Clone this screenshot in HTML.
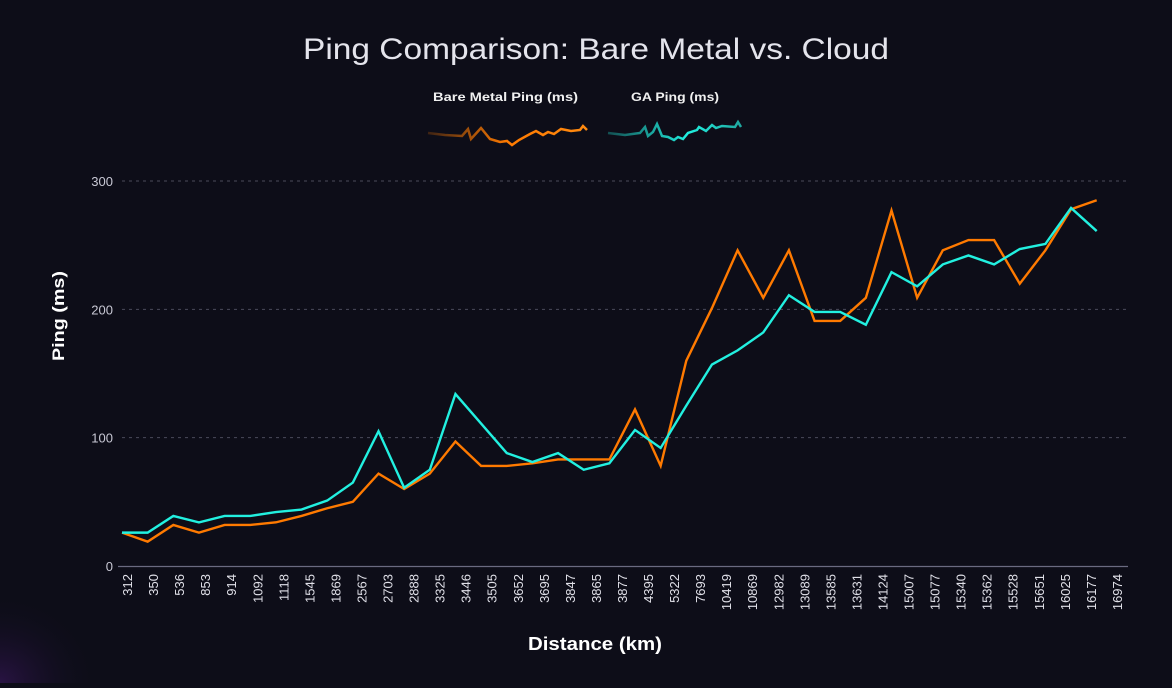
<!DOCTYPE html>
<html><head><meta charset="utf-8">
<style>
html,body{margin:0;padding:0;background:#0d0d18;}
body{width:1172px;height:683px;overflow:hidden;font-family:"Liberation Sans",sans-serif;}
</style></head>
<body>
<svg id="chart" width="1172" height="683" xmlns="http://www.w3.org/2000/svg">
<defs>
<radialGradient id="glow" cx="0" cy="1" r="0.5">
<stop offset="0" stop-color="#2c1448" stop-opacity="0.9"/><stop offset="1" stop-color="#0d0d18" stop-opacity="0"/>
</radialGradient>
<linearGradient id="og" x1="0" x2="1"><stop offset="0" stop-color="#ff7a00" stop-opacity="0.2"/><stop offset="0.5" stop-color="#ff7a00"/><stop offset="1" stop-color="#ff8a10"/></linearGradient>
<linearGradient id="cg" x1="0" x2="1"><stop offset="0" stop-color="#20e8d8" stop-opacity="0.3"/><stop offset="0.6" stop-color="#20f0e0"/><stop offset="1" stop-color="#20a8a0"/></linearGradient>
</defs>
<rect width="1172" height="683" fill="#0d0d18"/>
<rect x="0" y="500" width="200" height="183" fill="url(#glow)"/>
<text x="303" y="59" textLength="586" lengthAdjust="spacingAndGlyphs" fill="#e4e4ec" font-size="30">Ping Comparison: Bare Metal vs. Cloud</text>
<g>
<text x="433" y="101" textLength="145" lengthAdjust="spacingAndGlyphs" fill="#f0f0f0" font-size="12" font-weight="bold">Bare Metal Ping (ms)</text>
<polyline fill="none" stroke="url(#og)" stroke-width="2.5" points="428,133 445,135 462,136 468,129 471,139 481,128 490,139 500,142 507,141 512,145 519,140 530,134 536,131 543,135 548,132 554,134 561,129 571,131 580,130 583,126 587,130"/>
</g>
<g>
<text x="631" y="101" textLength="88" lengthAdjust="spacingAndGlyphs" fill="#f0f0f0" font-size="12" font-weight="bold">GA Ping (ms)</text>
<polyline fill="none" stroke="url(#cg)" stroke-width="2.5" points="608,133 625,135 640,133 645,127 648,136 653,132 657,124 662,136 668,137 674,140 678,137 683,139 688,133 697,130 699,127 706,131 712,125 716,128 722,126 735,127 738,122 741,127"/>
</g>
<g id="grid"></g>
<g id="axes"></g>
<g id="series"></g>
<text transform="translate(64,361) rotate(-90)" textLength="90" lengthAdjust="spacingAndGlyphs" fill="#ffffff" font-size="17" font-weight="bold">Ping (ms)</text>
<text x="528" y="650" textLength="134" lengthAdjust="spacingAndGlyphs" fill="#ffffff" font-size="18" font-weight="bold">Distance (km)</text>
</svg>
<script>
const categories = ["312","350","536","853","914","1092","1118","1545","1869","2567","2703","2888","3325","3446","3505","3652","3695","3847","3865","3877","4395","5322","7693","10419","10869","12982","13089","13585","13631","14124","15007","15077","15340","15362","15528","15651","16025","16177","16974"];
const bareMetal = [26,19,32,26,32,32,34,39,45,50,72,60,72,97,78,78,80,83,83,83,122,78,160,201,246,209,246,191,191,209,277,209,246,254,254,220,246,278,285];
const gaPing = [26,26,39,34,39,39,42,44,51,65,105,61,75,134,111,88,81,88,75,80,106,92,125,157,168,182,211,198,198,188,229,218,235,242,235,247,251,279,261];
const yTicks = [0,100,200,300];

const NS = "http://www.w3.org/2000/svg";
const y = v => 566 - v * 1.2833;
const xp = i => 122 + i * 25.65;
const xl = i => 127 + i * 26.05;
function mk(tag, attrs, parent){const e=document.createElementNS(NS,tag);for(const k in attrs)e.setAttribute(k,attrs[k]);parent.appendChild(e);return e;}
const grid=document.getElementById('grid'), axes=document.getElementById('axes'), series=document.getElementById('series');
yTicks.forEach(t=>{
  if(t>0){const g=mk('line',{x1:122,x2:1128,y1:y(t),y2:y(t),stroke:'#4a4a5a','stroke-dasharray':'3,4','stroke-width':1},grid);
  
  }
  const tx=mk('text',{x:113,y:y(t)+5,'text-anchor':'end',fill:'#c8c8d4','font-size':13},axes);
  tx.textContent=t;
  
  
});
const base=mk('line',{x1:118,x2:1128,y1:566.5,y2:566.5,stroke:'#6a6a80','stroke-width':1.2},axes);


categories.forEach((c,i)=>{
  const tx=mk('text',{transform:`translate(${xl(i)+5},574) rotate(-90)`,'text-anchor':'end',fill:'#e0e0e8','font-size':13},axes);
  tx.textContent=c;
  
  
});
function line(vals,color,name){
  const p=mk('polyline',{fill:'none',stroke:color,'stroke-width':2.4,'stroke-linejoin':'miter',points:vals.map((v,i)=>xp(i)+','+y(v)).join(' ')},series);
  
  
}
line(bareMetal,'#ff7a00','bare-metal-line');
line(gaPing,'#22f0e0','ga-ping-line');
</script>
</body></html>
